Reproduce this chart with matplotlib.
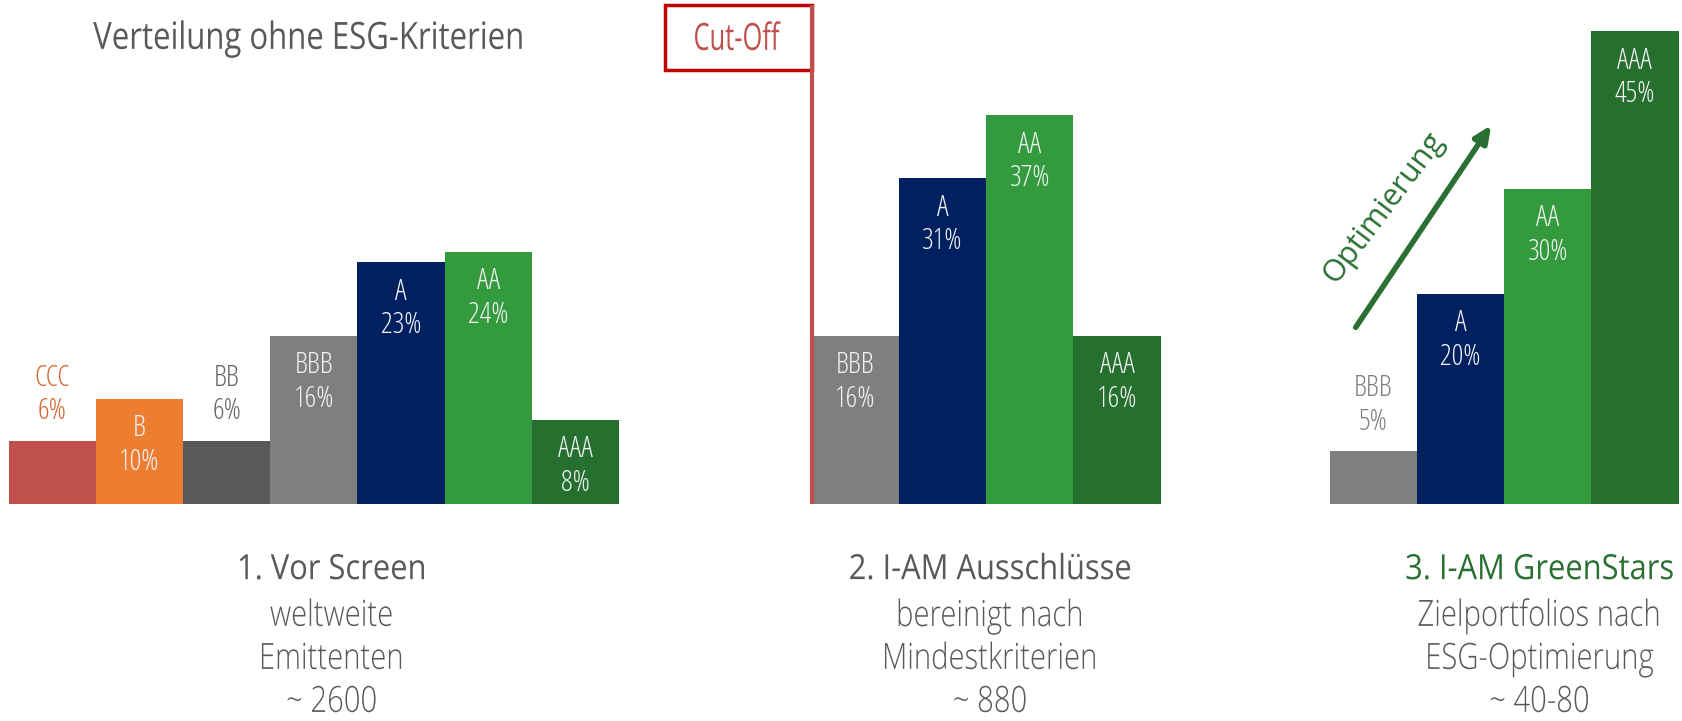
import matplotlib
matplotlib.use("Agg")
import matplotlib.pyplot as plt
from matplotlib.patheffects import AbstractPathEffect
from matplotlib.transforms import Affine2D

# rating shares per stage (in %)
ratings_1 = ["CCC", "B", "BB", "BBB", "A", "AA", "AAA"]
shares_1 = [6, 10, 6, 16, 23, 24, 8]
ratings_2 = ["BBB", "A", "AA", "AAA"]
shares_2 = [16, 31, 37, 16]
ratings_3 = ["BBB", "A", "AA", "AAA"]
shares_3 = [5, 20, 30, 45]

stage_titles = ["1. Vor Screen", "2. I-AM Ausschlüsse", "3. I-AM GreenStars"]
stage_notes = [
    ["weltweite", "Emittenten", "~ 2600"],
    ["bereinigt nach", "Mindestkriterien", "~ 880"],
    ["Zielportfolios nach", "ESG-Optimierung", "~ 40-80"],
]

colors = {
    "CCC": "#C0504D",
    "B": "#ED7D31",
    "BB": "#595959",
    "BBB": "#7F7F7F",
    "A": "#002060",
    "AA": "#339A3E",
    "AAA": "#256F2F",
}
# labels drawn above the bar instead of inside (small bars)
outside_color = {"CCC": "#D2672F", "BB": "#666666"}

GREY = "#595959"
GREEN = "#2A7032"
COND = dict(family="Open Sans", stretch="condensed", weight=300)


class SqueezeX(AbstractPathEffect):
    """Narrow a text path horizontally, keeping its left/right edge or centre."""

    def __init__(self, factor, keep="center"):
        super().__init__()
        self.factor = factor
        self.keep = keep

    def draw_path(self, renderer, gc, tpath, affine, rgbFace=None):
        box = tpath.get_extents(affine)
        if self.keep == "left":
            x0 = box.x0
        elif self.keep == "right":
            x0 = box.x1
        else:
            x0 = (box.x0 + box.x1) / 2
        squeeze = Affine2D().translate(-x0, 0).scale(self.factor, 1).translate(x0, 0)
        renderer.draw_path(gc, tpath, affine + squeeze, rgbFace)


fig = plt.figure(figsize=(16.82, 7.21), dpi=100)
ax = fig.add_axes([0, 0, 1, 1])
ax.set_xlim(-0.099, 19.19)
ax.set_ylim(-20.67, 48.0)
ax.axis("off")
renderer = fig.canvas.get_renderer()


def squeezed_caption(x, y, s, factor, **kw):
    # centre the narrowed text on x, anchored at its right edge so the
    # text box matches what is drawn on that side
    t = ax.text(x, y, s, ha="center", va="center", **kw)
    w = t.get_window_extent(renderer).width
    cx = ax.transData.transform((x, y))[0]
    right = ax.transData.inverted().transform((cx + factor * w / 2, 0))[0]
    t.set_x(right)
    t.set_ha("right")
    t.set_path_effects([SqueezeX(factor, keep="right")])
    return t


group_starts = [0.0, 9.21, 15.15]
caption_x = [3.71, 11.26, 17.56]
groups = [(ratings_1, shares_1), (ratings_2, shares_2), (ratings_3, shares_3)]

for g, ((labels, vals), x0) in enumerate(zip(groups, group_starts)):
    xs = [x0 + i for i in range(len(vals))]
    ax.bar(xs, vals, width=1.0, align="edge",
           color=[colors[r] for r in labels], linewidth=0)
    for x, r, v in zip(xs, labels, vals):
        cx = x + 0.5
        if v <= 6:
            tc = outside_color.get(r, "#7F7F7F")
            y1, y2 = v + 6.0, v + 2.8
        else:
            tc = "#F2F2F2"
            y1, y2 = v - 2.8, v - 6.0
        ax.text(cx, y1, r, ha="center", va="center", color=tc, fontsize=21, **COND)
        ax.text(cx, y2, f"{v}%", ha="center", va="center", color=tc, fontsize=21, **COND)

    # stage caption below the bars
    tx = caption_x[g]
    squeezed_caption(tx, -6.3, stage_titles[g], 0.89,
                     color=GREEN if g == 2 else GREY, fontsize=25, family="Open Sans")
    for k, line in enumerate(stage_notes[g]):
        squeezed_caption(tx, -10.7 - 4.1 * k, line, 0.81,
                         color=GREY, fontsize=26, family="Open Sans", weight=300)

# headline of the first block
ax.text(0.97, 44.3, "Verteilung ohne ESG-Kriterien", ha="left", va="center",
        color=GREY, fontsize=27, family="Open Sans",
        path_effects=[SqueezeX(0.83, keep="left")])

# cut-off marker
cut_x = group_starts[1]
ax.plot([cut_x, cut_x], [0, 47.5], color="#C0504D", lw=3, solid_capstyle="butt")
ax.text(8.34, 44.2, "Cut-Off", ha="center", va="center", color="#C0504D",
        fontsize=27, family="Open Sans", path_effects=[SqueezeX(0.68)])
box = plt.Rectangle((7.53, 41.3), cut_x - 7.53, 6.2, fill=False,
                    ec="#C00000", lw=2.5)
ax.add_patch(box)

# optimisation arrow
ax.annotate("", xy=(17.02, 36.3), xytext=(15.43, 16.6),
            arrowprops=dict(arrowstyle="-|>,head_length=1.0,head_width=0.45",
                            color=GREEN, lw=4))
ax.text(15.77, 28.2, "Optimierung", rotation=53, ha="center", va="center",
        rotation_mode="anchor", color=GREEN, fontsize=22, family="Open Sans")

fig.savefig("out.png", dpi=100)
